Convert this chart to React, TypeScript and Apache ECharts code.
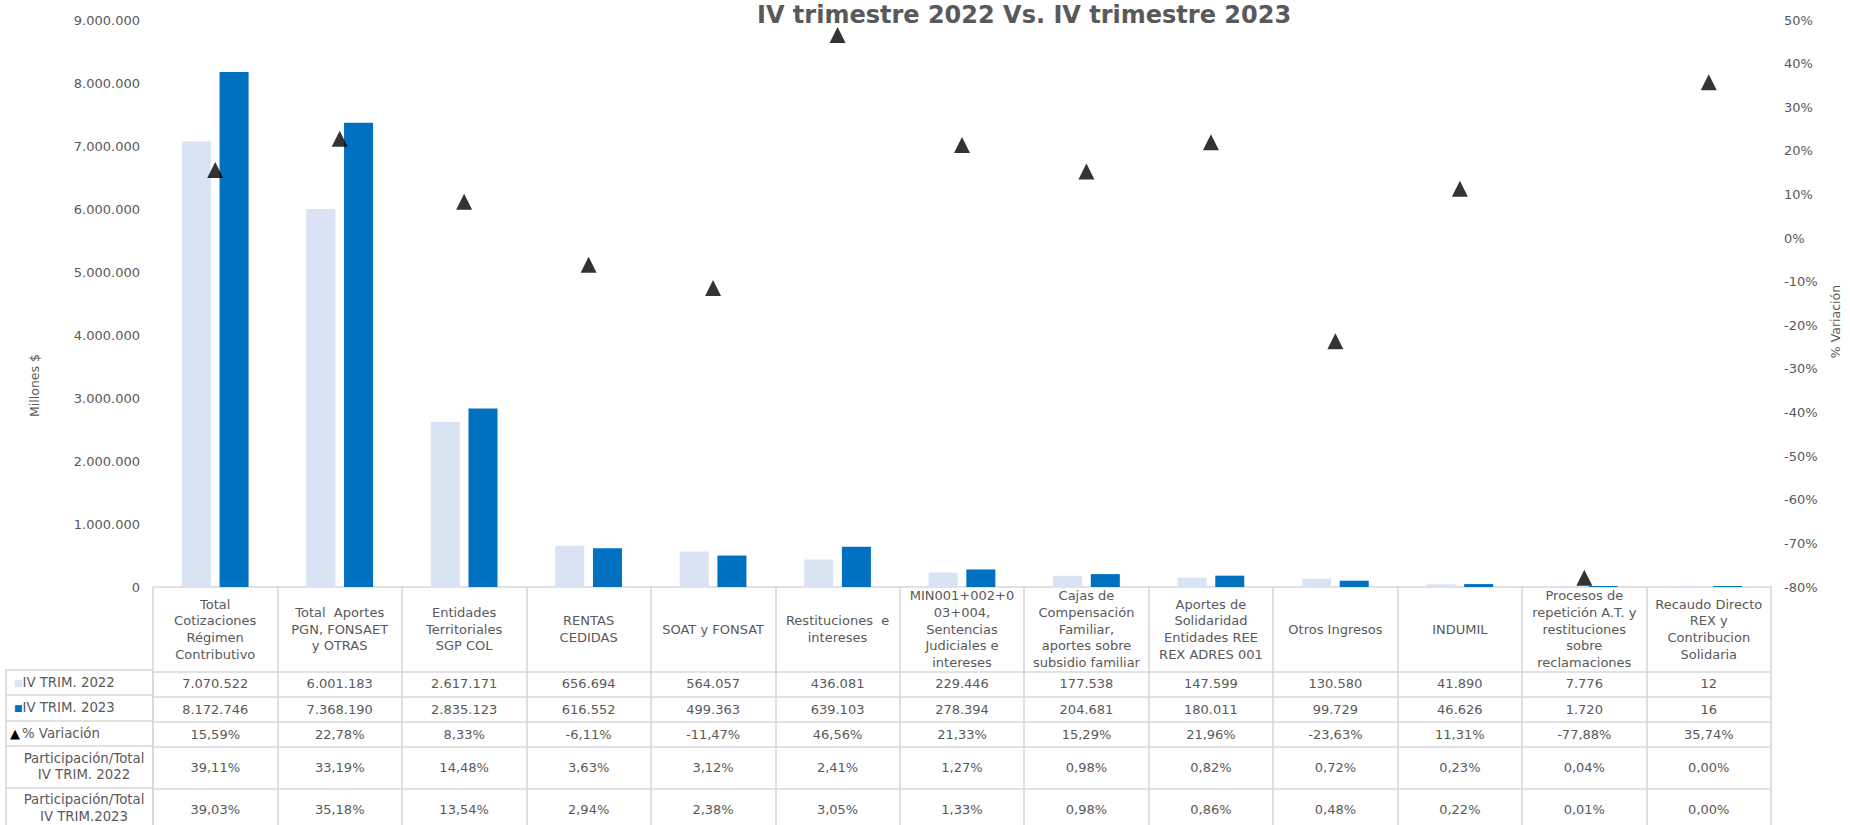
import React, { useEffect, useRef } from "react";
import * as echarts from "echarts";

const categories = [
  "Total\nCotizaciones\nRégimen\nContributivo",
  "Total  Aportes\nPGN, FONSAET\ny OTRAS",
  "Entidades\nTerritoriales\nSGP COL",
  "RENTAS\nCEDIDAS",
  "SOAT y FONSAT",
  "Restituciones  e\nintereses",
  "MIN001+002+0\n03+004,\nSentencias\nJudiciales e\nintereses",
  "Cajas de\nCompensación\nFamiliar,\naportes sobre\nsubsidio familiar",
  "Aportes de\nSolidaridad\nEntidades REE\nREX ADRES 001",
  "Otros Ingresos",
  "INDUMIL",
  "Procesos de\nrepetición A.T. y\nrestituciones\nsobre\nreclamaciones",
  "Recaudo Directo\nREX y\nContribucion\nSolidaria",
];

const trim2022 = [7070522, 6001183, 2617171, 656694, 564057, 436081, 229446, 177538, 147599, 130580, 41890, 7776, 12];
const trim2023 = [8172746, 7368190, 2835123, 616552, 499363, 639103, 278394, 204681, 180011, 99729, 46626, 1720, 16];
const variation = [15.59, 22.78, 8.33, -6.11, -11.47, 46.56, 21.33, 15.29, 21.96, -23.63, 11.31, -77.88, 35.74];
const part2022 = [39.11, 33.19, 14.48, 3.63, 3.12, 2.41, 1.27, 0.98, 0.82, 0.72, 0.23, 0.04, 0.0];
const part2023 = [39.03, 35.18, 13.54, 2.94, 2.38, 3.05, 1.33, 0.98, 0.86, 0.48, 0.22, 0.01, 0.0];

const seriesNames = ["IV TRIM. 2022", "IV TRIM. 2023", "% Variación"];
const shareLabels = ["Participación/Total\nIV TRIM. 2022", "Participación/Total\nIV TRIM.2023"];
const title = "IV trimestre 2022 Vs. IV trimestre 2023";

const FONT = "DejaVu Sans";
const TXT = "#595959";
const BORDER = "#d9d9d9";
const C2022 = "#dae3f3";
const C2023 = "#0070c0";

const fmtInt = (v: number) => Math.round(v).toString().replace(/\B(?=(\d{3})+(?!\d))/g, ".");
const fmtPct = (v: number) => v.toFixed(2).replace(".", ",") + "%";

export default function App() {
  const ref = useRef<HTMLDivElement>(null);

  useEffect(() => {
    if (!ref.current) return;
    const chart = echarts.init(ref.current, undefined, { renderer: "svg" });

    const headerH = 84.4;
    const rows = [
      { kind: "legend", label: seriesNames[0], values: trim2022.map(fmtInt), h: 25, sym: "sq", color: C2022 },
      { kind: "legend", label: seriesNames[1], values: trim2023.map(fmtInt), h: 25.6, sym: "sq", color: C2023 },
      { kind: "legend", label: seriesNames[2], values: variation.map(fmtPct), h: 25, sym: "tri", color: "#000" },
      { kind: "share", label: shareLabels[0], values: part2022.map(fmtPct), h: 41.7 },
      { kind: "share", label: shareLabels[1], values: part2023.map(fmtPct), h: 42 },
    ];

    const lineStyle = { color: BORDER, width: 1.6 };
    const baseLabel = { fontFamily: FONT, fontSize: 13, color: TXT, interval: 0, verticalAlign: "middle" as const };

    const xAxes: any[] = [
      {
        type: "category",
        gridIndex: 0,
        position: "bottom",
        offset: 0,
        data: categories,
        axisLine: { show: true, onZero: false, lineStyle },
        axisTick: { show: true, interval: 0, length: headerH, lineStyle },
        axisLabel: { ...baseLabel, margin: headerH / 2, lineHeight: 16.7 },
      },
    ];

    let off = headerH;
    rows.forEach((r) => {
      xAxes.push({
        type: "category",
        gridIndex: 0,
        position: "bottom",
        offset: off,
        data: r.values,
        axisLine: { show: true, onZero: false, lineStyle },
        axisTick: { show: true, interval: 0, length: r.h, lineStyle },
        axisLabel: { ...baseLabel, margin: r.h / 2 },
      });
      if (r.kind === "legend") {
        xAxes.push({
          type: "category",
          gridIndex: 1,
          position: "bottom",
          offset: off,
          boundaryGap: false,
          data: [r.label, ""],
          axisLine: { show: true, onZero: false, lineStyle },
          axisTick: { show: true, interval: 0, length: r.h, lineStyle },
          axisLabel: {
            ...baseLabel,
            margin: r.h / 2,
            align: "left",
            padding: [0, 0, 0, r.sym === "sq" ? 8 : 4],
            formatter: (v: string, idx: number) =>
              idx === 0 ? (r.sym === "sq" ? `{sq|■}{t|${v}}` : `{tri|▲}{t|${v}}`) : "",
            rich: {
              sq: { fontSize: 9, color: r.color, fontFamily: FONT },
              tri: { fontSize: 13, color: "#000", fontFamily: FONT, padding: [0, 2, 0, 0] },
              t: { fontSize: 13.3, color: TXT, fontFamily: FONT },
            },
          },
        });
      } else {
        xAxes.push({
          type: "category",
          gridIndex: 1,
          position: "bottom",
          offset: off,
          boundaryGap: true,
          data: [r.label],
          axisLine: { show: true, onZero: false, lineStyle },
          axisTick: { show: true, interval: 0, length: r.h, lineStyle },
          axisLabel: { ...baseLabel, fontSize: 13.3, margin: r.h / 2, lineHeight: 16.7, padding: [0, 0, 0, 9] },
        });
      }
      off += r.h;
    });

    chart.setOption({
      animation: false,
      backgroundColor: "#ffffff",
      title: {
        text: title,
        left: 757,
        top: 3,
        padding: 0,
        textStyle: { fontFamily: FONT, fontSize: 24, fontWeight: "bold", color: TXT, lineHeight: 24 },
      },
      legend: { show: false },
      grid: [
        { left: 153, right: 70, top: 20, bottom: 238, containLabel: false },
        { left: 6, width: 147, top: 20, bottom: 238, containLabel: false },
      ],
      xAxis: xAxes,
      yAxis: [
        {
          type: "value",
          gridIndex: 0,
          position: "left",
          min: 0,
          max: 9000000,
          interval: 1000000,
          axisLine: { show: false },
          axisTick: { show: false },
          splitLine: { show: false },
          axisLabel: { formatter: (v: number) => fmtInt(v), margin: 13, fontFamily: FONT, fontSize: 13, color: TXT },
          name: "Millones $",
          nameLocation: "middle",
          nameGap: 112,
          nameTextStyle: { fontFamily: FONT, fontSize: 12.5, color: TXT, padding: [0, 164, 0, 0] },
        },
        {
          type: "value",
          gridIndex: 0,
          position: "right",
          min: -80,
          max: 50,
          interval: 10,
          axisLine: { show: false },
          axisTick: { show: false },
          splitLine: { show: false },
          axisLabel: { formatter: (v: number) => `${v}%`, margin: 13, fontFamily: FONT, fontSize: 13, color: TXT },
          name: "% Variación",
          nameLocation: "middle",
          nameGap: 58,
          nameTextStyle: { fontFamily: FONT, fontSize: 12.5, color: TXT, padding: [0, 36, 0, 0] },
        },
        { type: "value", gridIndex: 1, show: false },
      ],
      series: [
        {
          name: seriesNames[0],
          type: "bar",
          xAxisIndex: 0,
          yAxisIndex: 0,
          data: trim2022,
          barWidth: 29,
          barGap: "30%",
          barMinHeight: 1,
          itemStyle: { color: C2022 },
        },
        {
          name: seriesNames[1],
          type: "bar",
          xAxisIndex: 0,
          yAxisIndex: 0,
          data: trim2023,
          barWidth: 29,
          barGap: "30%",
          barMinHeight: 1,
          itemStyle: { color: C2023 },
        },
        {
          name: seriesNames[2],
          type: "scatter",
          xAxisIndex: 0,
          yAxisIndex: 1,
          data: variation,
          symbol: "triangle",
          symbolSize: 16,
          itemStyle: { color: "#000000" },
          z: 5,
        },
      ],
    });

    return () => chart.dispose();
  }, []);

  return (
    <div
      ref={ref}
      style={{ position: "fixed", left: 0, top: 0, width: 1850, height: 825, background: "#fff" }}
    />
  );
}
